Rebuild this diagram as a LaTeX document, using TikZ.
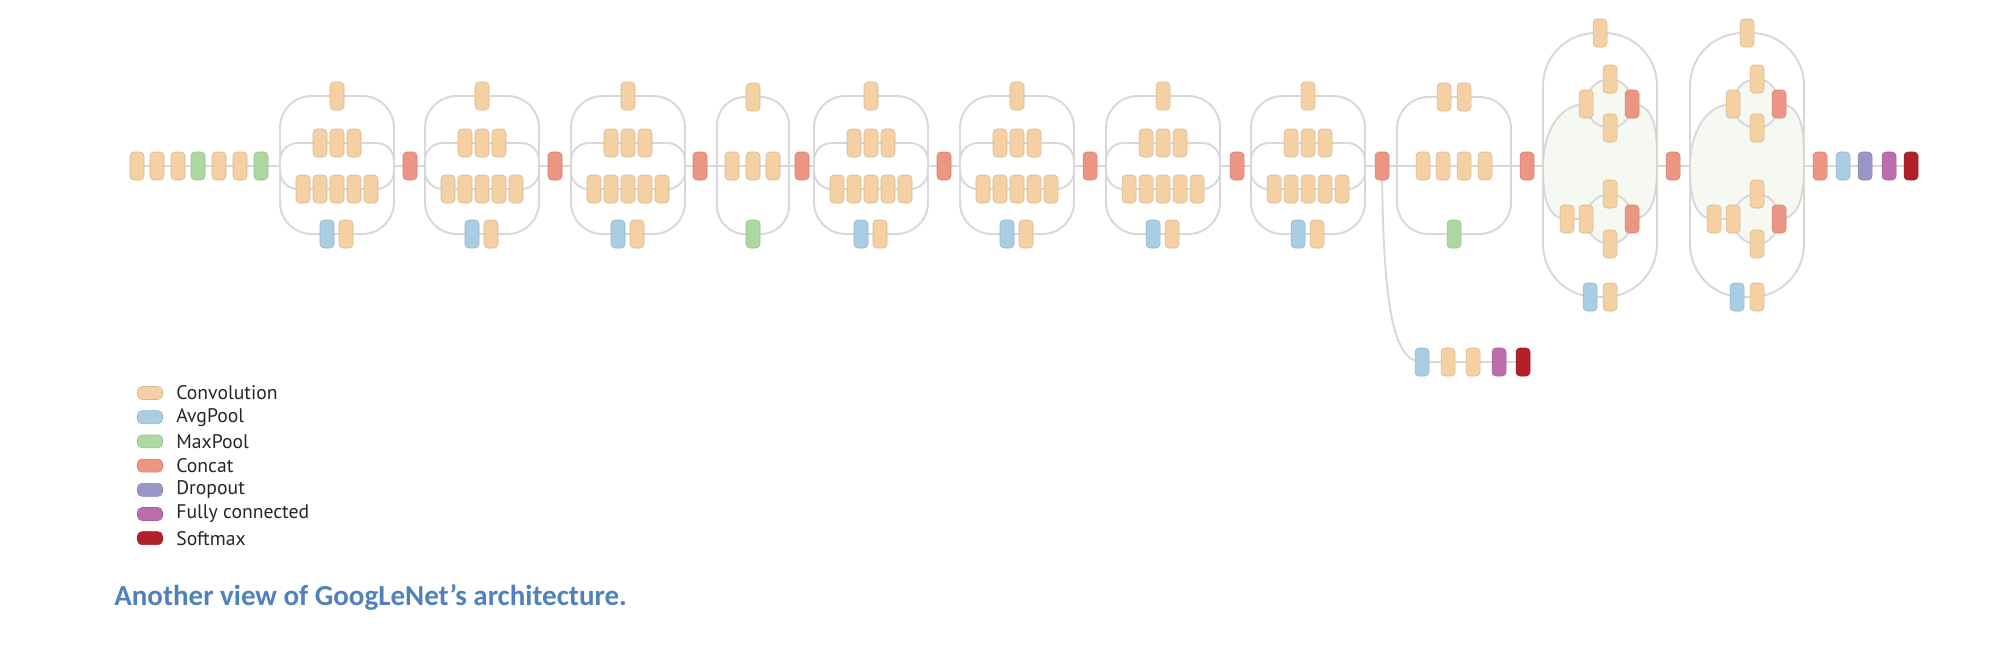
\documentclass[tikz,border=0pt]{standalone}
\usepackage{fontspec}
\setmainfont{PT Sans}
\newfontfamily\capfont{Carlito}
\usetikzlibrary{positioning,calc}
\definecolor{convc}{HTML}{F4D0A2}
\definecolor{avgc}{HTML}{A9CDE3}
\definecolor{maxc}{HTML}{ADD9A1}
\definecolor{catc}{HTML}{EB9582}
\definecolor{dropc}{HTML}{9897C6}
\definecolor{fcc}{HTML}{BB6DAE}
\definecolor{softc}{HTML}{B2202A}
\definecolor{linkc}{HTML}{D8D8D8}
\definecolor{regionc}{HTML}{F6F9F1}
\definecolor{capc}{HTML}{4F81BD}
\pgfdeclarelayer{background}
\pgfsetlayers{background,main}
\tikzset{
  blk/.style={rectangle,rounded corners=2.2pt,minimum width=2.8mm,minimum height=5.6mm,
    inner sep=0pt,line width=0.3pt,fill=#1,draw=#1!88!black},
  conv/.style={blk=convc}, avgpool/.style={blk=avgc}, maxpool/.style={blk=maxc},
  concat/.style={blk=catc},
  swatch/.style={rectangle,rounded corners=2.5pt,minimum width=5mm,minimum height=2.6mm,
    inner sep=0pt,line width=0.3pt,fill=#1,draw=#1!88!black},
  link/.style={draw=linkc,line width=1.1pt},
}
% standard inception block
\newcommand{\inception}[2]{%
  \coordinate (#1in) at (#2-57,-166);
  \coordinate (#1out) at (#2+57,-166);
  \node[conv] (#1t) at (#2,-96) {};
  \foreach \i/\dx in {1/-17,2/0,3/17}
    \node[conv] (#1b\i) at (#2+\dx,-143) {};
  \foreach \i/\dx in {1/-34,2/-17,3/0,4/17,5/34}
    \node[conv] (#1c\i) at (#2+\dx,-189) {};
  \node[avgpool] (#1d1) at (#2-10,-234) {};
  \node[conv] (#1d2) at (#2+9,-234) {};
  \begin{pgfonlayer}{background}
    \draw[link,rounded corners=18pt] (#1in) |- (#1t.center) (#1t.center) -| (#1out);
    \draw[link,rounded corners=10pt] (#1in) |- (#1b1.center) (#1b3.center) -| (#1out);
    \draw[link,rounded corners=10pt] (#1in) |- (#1c1.center) (#1c5.center) -| (#1out);
    \draw[link,rounded corners=18pt] (#1in) |- (#1d1.center) (#1d2.center) -| (#1out);
    \draw[link] (#1b1.center) -- (#1b3.center) (#1c1.center) -- (#1c5.center)
      (#1d1.center) -- (#1d2.center);
  \end{pgfonlayer}}
% wide inception block with nested branches
\newcommand{\biginception}[2]{%
  \coordinate (#1in) at (#2-57,-166);
  \coordinate (#1out) at (#2+57,-166);
  \node[conv] (#1t) at (#2,-33) {};
  \node[conv] (#1u0) at (#2-14,-104) {};
  \node[conv] (#1ut) at (#2+10,-79) {};
  \node[conv] (#1ub) at (#2+10,-128) {};
  \node[concat] (#1ur) at (#2+32,-104) {};
  \node[conv] (#1l0) at (#2-33,-219) {};
  \node[conv] (#1l1) at (#2-14,-219) {};
  \node[conv] (#1lt) at (#2+10,-194) {};
  \node[conv] (#1lb) at (#2+10,-244) {};
  \node[concat] (#1lr) at (#2+32,-219) {};
  \node[avgpool] (#1d1) at (#2-10,-297) {};
  \node[conv] (#1d2) at (#2+10,-297) {};
  \begin{pgfonlayer}{background}
    \fill[regionc] (#1in) to[out=90,in=180] (#1u0.center)
      to[out=90,in=180] (#1ut.center) to[out=0,in=90] (#1ur.center)
      to[out=0,in=90] (#1out) to[out=-90,in=0] (#1lr.center)
      to[out=-90,in=0] (#1lb.center) to[out=180,in=-90] (#1l1.center)
      -- (#1l0.center) to[out=180,in=-90] (#1in) -- cycle;
    \draw[link,rounded corners=30pt] (#1in) |- (#1t.center) (#1t.center) -| (#1out);
    \draw[link,rounded corners=30pt] (#1in) |- (#1d1.center) (#1d2.center) -| (#1out);
    \draw[link] (#1d1.center) -- (#1d2.center);
    \draw[link] (#1in) to[out=90,in=180] (#1u0.center)
      to[out=90,in=180] (#1ut.center) to[out=0,in=90] (#1ur.center)
      to[out=0,in=90] (#1out);
    \draw[link] (#1u0.center) to[out=-90,in=180] (#1ub.center) to[out=0,in=-90] (#1ur.center);
    \draw[link] (#1in) to[out=-90,in=180] (#1l0.center) -- (#1l1.center)
      to[out=90,in=180] (#1lt.center) to[out=0,in=90] (#1lr.center)
      to[out=0,in=-90] (#1out);
    \draw[link] (#1l1.center) to[out=-90,in=180] (#1lb.center) to[out=0,in=-90] (#1lr.center);
  \end{pgfonlayer}}

\begin{document}
\begin{tikzpicture}[x=0.2mm,y=0.2mm]
\useasboundingbox (0,0) rectangle (2000,-650);
% stem
\foreach \i/\x/\c in {1/137/convc,2/157/convc,3/178/convc,4/198/maxc,5/219/convc,6/240/convc,7/261/maxc}
  \node[blk=\c] (s\i) at (\x,-166) {};
% concat layers
\foreach \i/\x in {1/410,2/555,3/700,4/802,5/944,6/1090,7/1237,8/1382,9/1527,10/1673,11/1820}
  \node[concat] (c\i) at (\x,-166) {};
\inception{m1}{337}
\inception{m2}{482}
\inception{m3}{628}
\inception{m5}{871}
\inception{m6}{1017}
\inception{m7}{1163}
\inception{m8}{1308}
\biginception{m10}{1600}
\biginception{m11}{1747}
% narrow block after c3
\coordinate (m4in) at (717,-166);
\coordinate (m4out) at (789,-166);
\node[conv] (m4t) at (753,-97) {};
\foreach \i/\x in {1/732,2/753,3/773}
  \node[conv] (m4b\i) at (\x,-166) {};
\node[maxpool] (m4d) at (753,-234) {};
% block after c8
\coordinate (m9in) at (1397,-166);
\coordinate (m9out) at (1511,-166);
\node[conv] (m9t1) at (1444,-97) {};
\node[conv] (m9t2) at (1464,-97) {};
\foreach \i/\x in {1/1423,2/1443,3/1464,4/1485}
  \node[conv] (m9b\i) at (\x,-166) {};
\node[maxpool] (m9d) at (1454,-234) {};
% classifier heads
\foreach \i/\x/\c in {1/1843/avgc,2/1865/dropc,3/1889/fcc,4/1911/softc}
  \node[blk=\c] (f\i) at (\x,-166) {};
\foreach \i/\x/\c in {1/1422/avgc,2/1448/convc,3/1473/convc,4/1499/fcc,5/1523/softc}
  \node[blk=\c] (a\i) at (\x,-362) {};
\begin{pgfonlayer}{background}
  \draw[link] (s1.center) -- (s7.center) -- (m1in);
  \draw[link] (m1out) -- (c1.center) -- (m2in);
  \draw[link] (m2out) -- (c2.center) -- (m3in);
  \draw[link] (m3out) -- (c3.center) -- (m4in) -- (m4out) -- (c4.center) -- (m5in);
  \draw[link,rounded corners=16pt] (m4in) |- (m4t.center) (m4t.center) -| (m4out);
  \draw[link,rounded corners=16pt] (m4in) |- (m4d.center) (m4d.center) -| (m4out);
  \draw[link] (m5out) -- (c5.center) -- (m6in);
  \draw[link] (m6out) -- (c6.center) -- (m7in);
  \draw[link] (m7out) -- (c7.center) -- (m8in);
  \draw[link] (m8out) -- (c8.center) -- (m9in) -- (m9out) -- (c9.center) -- (m10in);
  \draw[link,rounded corners=18pt] (m9in) |- (m9t1.center) (m9t2.center) -| (m9out);
  \draw[link] (m9t1.center) -- (m9t2.center);
  \draw[link,rounded corners=18pt] (m9in) |- (m9d.center) (m9d.center) -| (m9out);
  \draw[link] (m10out) -- (c10.center) -- (m11in);
  \draw[link] (m11out) -- (c11.center) -- (f4.center);
  \draw[link] (c8.center) .. controls (1383,-300) and (1392,-362) .. (a1.center) -- (a5.center);
\end{pgfonlayer}
% legend
\foreach \i/\c/\t in {0/convc/Convolution,1/avgc/AvgPool,2/maxc/MaxPool,3/catc/Concat,
    4/dropc/Dropout,5/fcc/Fully connected,6/softc/Softmax} {
  \node[swatch=\c] (k\i) at (150,-393-24.2*\i) {};
  \node[anchor=west,inner sep=0pt,text=black!85,font=\fontsize{11.2}{13}\selectfont]
    (t\i) at (176,-393-24.2*\i) {\t};
}
\node[anchor=west,inner sep=0pt,text=capc,font=\capfont\bfseries\fontsize{16.5}{19}\selectfont]
  (cap) at (114,-597) {Another view of GoogLeNet’s architecture.};
\end{tikzpicture}
\end{document}
